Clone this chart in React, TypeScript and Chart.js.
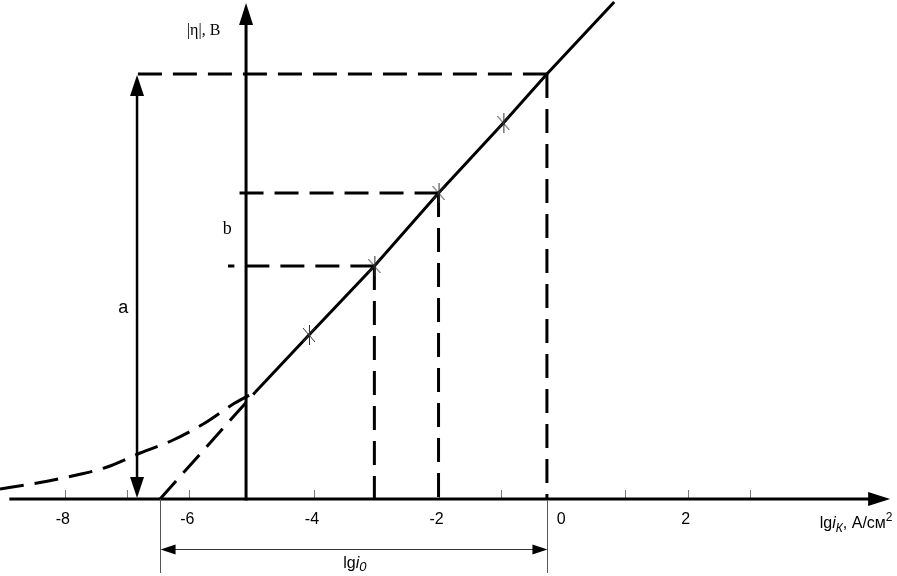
import React, { useEffect, useRef } from "react";
import { Chart, registerables } from "chart.js";
Chart.register(...registerables);

// Scale ranges: lg i (x) and |η|, V (y)
const X_MIN = -9.04;
const X_MAX = 5.36;
const Y_MIN = -0.154;
const Y_MAX = 0.998;

// x-axis ticks and labels
const tickValues = [-8, -7, -6, -4, -2, -1, 1, 2, 3];
const labelValues = [-8, -6, -4, -2, 0, 2];
const labelTexts = ["-8", "-6", "-4", "-2", "0", "2"];

// Tafel line (solid)
const tafelX = [-4.94, -4.08, -3.03, -2.0, -0.96, -0.26, 0.82];
const tafelY = [0.214, 0.328, 0.466, 0.612, 0.752, 0.85, 0.994];

// experimental points (crosses)
const pointX = [-4.08, -3.03, -2.0, -0.96];
const pointY = [0.328, 0.466, 0.612, 0.752];

// extrapolation of the Tafel line down to |η| = 0
const extrapX = [-6.47, -4.94];
const extrapY = [0, 0.214];

// real polarisation curve at low currents
const curveX = [-9.04, -8.44, -7.88, -7.32, -6.79, -6.26, -5.75, -5.27, -4.94];
const curveY = [0.02, 0.032, 0.046, 0.064, 0.092, 0.118, 0.152, 0.192, 0.214];

// projection (construction) lines
const projLgI = [-0.26, -2.0, -3.03];
const projEta = [0.85, 0.612, 0.466];
const projLeftX = [-6.84, -5.23, -5.38];

// axes and dimension arrows
const axisXStart = -8.89;
const axisXEnd = 5.25;
const yAxisAt = -5.09;
const yAxisTop = 0.992;
const aArrowAt = -6.84;
const aArrowTop = 0.848;
const lgI0 = -6.47;
const lgI0ArrowEta = -0.1;
const dimLineBottom = -0.148;

// annotation anchors (data coords)
const etaTitle = { x: -6.04, y: 0.928, text: "|η|, В" };
const bText = { x: -5.39, y: 0.54, text: "b" };
const aText = { x: -7.06, y: 0.382, text: "a" };
const tickLabelEta = -0.042;
const xTitle = { x: 4.12, y: -0.057 };
const lgI0Title = { x: -3.53, y: -0.137 };

const SANS = "'Liberation Sans', Arial, sans-serif";
const SERIF = "'Liberation Serif', 'Times New Roman', serif";

function pts(xs: number[], ys: number[]) {
  return xs.map((x, i) => ({ x, y: ys[i] }));
}

export default function App() {
  const ref = useRef<HTMLCanvasElement>(null);

  useEffect(() => {
    const canvas = ref.current!;

    // cross marker
    const cross = document.createElement("canvas");
    cross.width = 16;
    cross.height = 22;
    const c = cross.getContext("2d")!;
    c.strokeStyle = "#333";
    c.lineWidth = 1;
    c.beginPath();
    c.moveTo(8.5, 1);
    c.lineTo(8.5, 21);
    c.moveTo(2, 4);
    c.lineTo(14, 18);
    c.moveTo(14, 4);
    c.lineTo(2, 18);
    c.stroke();

    const dash = [24, 11];
    const base = {
      showLine: true,
      pointRadius: 0,
      borderColor: "#000",
      backgroundColor: "#000",
      fill: false,
      tension: 0,
    };

    const datasets: any[] = [
      {
        label: "points",
        data: pts(pointX, pointY),
        showLine: false,
        pointStyle: cross,
        pointRadius: 10,
      },
      { ...base, label: "tafel", data: pts(tafelX, tafelY), borderWidth: 3 },
      { ...base, label: "extrap", data: pts(extrapX, extrapY), borderWidth: 3, borderDash: dash },
      {
        ...base,
        label: "curve",
        data: pts(curveX, curveY),
        borderWidth: 3,
        borderDash: dash,
        cubicInterpolationMode: "monotone",
      },
    ];
    projLgI.forEach((lx, i) => {
      datasets.push({
        ...base,
        label: "h" + i,
        data: [
          { x: lx, y: projEta[i] },
          { x: projLeftX[i], y: projEta[i] },
        ],
        borderWidth: 3,
        borderDash: dash,
      });
      datasets.push({
        ...base,
        label: "v" + i,
        data: [
          { x: lx, y: projEta[i] },
          { x: lx, y: 0 },
        ],
        borderWidth: 3,
        borderDash: dash,
      });
    });

    const overlay = {
      id: "overlay",
      beforeDatasetsDraw(chart: any) {
        const ctx = chart.ctx as CanvasRenderingContext2D;
        const xs = chart.scales.x;
        const ys = chart.scales.y;
        const px = (v: number) => xs.getPixelForValue(v);
        const py = (v: number) => ys.getPixelForValue(v);
        ctx.save();
        ctx.fillStyle = "#fff";
        ctx.fillRect(0, 0, chart.width, chart.height);
        ctx.strokeStyle = "#777";
        ctx.lineWidth = 1;
        tickValues.forEach((t) => {
          const x = Math.round(px(t)) + 0.5;
          ctx.beginPath();
          ctx.moveTo(x, py(0));
          ctx.lineTo(x, py(0) - 9);
          ctx.stroke();
        });
        ctx.restore();
      },
      afterDatasetsDraw(chart: any) {
        const ctx = chart.ctx as CanvasRenderingContext2D;
        const xs = chart.scales.x;
        const ys = chart.scales.y;
        const px = (v: number) => xs.getPixelForValue(v);
        const py = (v: number) => ys.getPixelForValue(v);

        const head = (tx: number, ty: number, dx: number, dy: number, len: number, half: number, color: string) => {
          const bx = tx - dx * len;
          const by = ty - dy * len;
          ctx.fillStyle = color;
          ctx.beginPath();
          ctx.moveTo(tx, ty);
          ctx.lineTo(bx - dy * half, by + dx * half);
          ctx.lineTo(bx + dy * half, by - dx * half);
          ctx.closePath();
          ctx.fill();
        };
        const seg = (x1: number, y1: number, x2: number, y2: number, w: number, color: string) => {
          ctx.strokeStyle = color;
          ctx.lineWidth = w;
          ctx.beginPath();
          ctx.moveTo(x1, y1);
          ctx.lineTo(x2, y2);
          ctx.stroke();
        };

        ctx.save();
        ctx.lineCap = "butt";
        const y0 = py(0);

        // x axis
        seg(px(axisXStart), y0, px(axisXEnd) - 20, y0, 3, "#000");
        head(px(axisXEnd), y0, 1, 0, 22, 7, "#000");
        // y axis
        const yx = px(yAxisAt);
        seg(yx, y0 + 1.5, yx, py(yAxisTop) + 20, 3, "#000");
        head(yx, py(yAxisTop), 0, -1, 22, 7, "#000");
        // "a" double arrow
        const ax = px(aArrowAt);
        seg(ax, py(aArrowTop) + 18, ax, y0 - 18, 2.5, "#000");
        head(ax, py(aArrowTop), 0, -1, 21, 7, "#000");
        head(ax, y0 - 1, 0, 1, 21, 7, "#000");
        // lg i0 dimension lines
        const l0 = px(lgI0);
        const l1 = px(projLgI[0]);
        seg(Math.round(l0) + 0.5, y0, Math.round(l0) + 0.5, py(dimLineBottom), 1, "#555");
        seg(Math.round(l1) + 0.5, y0 + 1.5, Math.round(l1) + 0.5, py(dimLineBottom), 1, "#555");
        const ay = Math.round(py(lgI0ArrowEta)) + 0.5;
        seg(l0 + 10, ay, l1 - 10, ay, 1, "#333");
        head(l0 + 0.5, ay, -1, 0, 15, 5, "#000");
        head(l1 + 0.5, ay, 1, 0, 15, 5, "#000");

        // tick labels
        ctx.fillStyle = "#000";
        ctx.font = "16px " + SANS;
        ctx.textAlign = "center";
        ctx.textBaseline = "middle";
        labelValues.forEach((v, i) => {
          ctx.fillText(labelTexts[i], px(v) - 2, py(tickLabelEta));
        });

        // serif annotations
        ctx.font = "16px " + SERIF;
        ctx.textAlign = "left";
        ctx.textBaseline = "alphabetic";
        ctx.fillText(etaTitle.text, px(etaTitle.x), py(etaTitle.y));
        ctx.font = "18px " + SERIF;
        ctx.textAlign = "center";
        ctx.textBaseline = "middle";
        ctx.fillText(bText.text, px(bText.x), py(bText.y));
        ctx.font = "18px " + SANS;
        ctx.fillText(aText.text, px(aText.x), py(aText.y));

        const rich = (parts: { t: string; f: string; dy: number }[], x: number, y: number) => {
          ctx.textAlign = "left";
          ctx.textBaseline = "alphabetic";
          let cx = x;
          parts.forEach((p) => {
            ctx.font = p.f;
            ctx.fillText(p.t, cx, y + p.dy);
            cx += ctx.measureText(p.t).width;
          });
        };
        rich(
          [
            { t: "lg", f: "16px " + SANS, dy: 0 },
            { t: "i", f: "italic 16px " + SANS, dy: 0 },
            { t: "К", f: "italic 12px " + SANS, dy: 4 },
            { t: ", А/см", f: "16px " + SANS, dy: 0 },
            { t: "2", f: "12px " + SANS, dy: -7 },
          ],
          px(xTitle.x),
          py(xTitle.y)
        );
        rich(
          [
            { t: "lg", f: "16px " + SANS, dy: 0 },
            { t: "i", f: "italic 16px " + SANS, dy: 0 },
            { t: "0", f: "italic 13px " + SANS, dy: 3 },
          ],
          px(lgI0Title.x),
          py(lgI0Title.y)
        );
        ctx.restore();
      },
    };

    const chart = new Chart(canvas, {
      type: "line",
      data: { datasets },
      options: {
        animation: false,
        responsive: false,
        maintainAspectRatio: false,
        devicePixelRatio: 1,
        layout: { padding: 0, autoPadding: false },
        parsing: false as any,
        plugins: { legend: { display: false }, tooltip: { enabled: false } },
        scales: {
          x: { type: "linear", min: X_MIN, max: X_MAX, display: false },
          y: { type: "linear", min: Y_MIN, max: Y_MAX, display: false },
        },
      },
      plugins: [overlay],
    });
    return () => chart.destroy();
  }, []);

  return (
    <div style={{ position: "fixed", left: 0, top: 0, width: 897, height: 576, background: "#fff" }}>
      <canvas ref={ref} width={897} height={576} style={{ display: "block" }} />
    </div>
  );
}
